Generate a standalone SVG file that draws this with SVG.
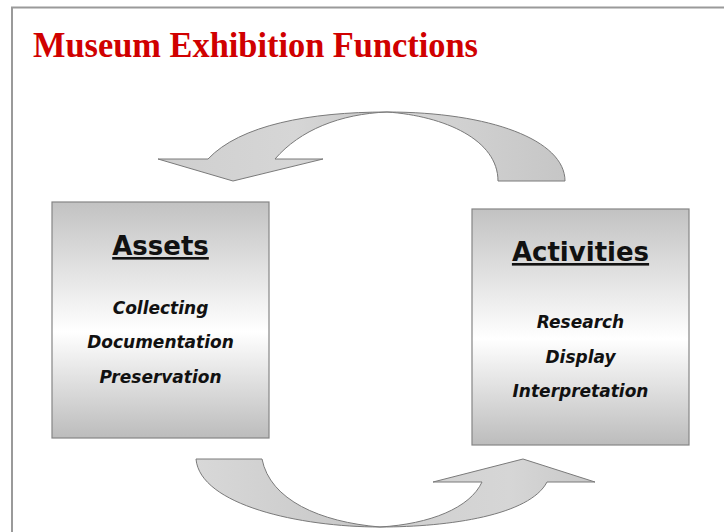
<svg xmlns="http://www.w3.org/2000/svg" width="724" height="532" viewBox="0 0 724 532">
<defs>
<linearGradient id="boxGrad" x1="0" y1="0" x2="0" y2="1">
<stop offset="0" stop-color="#c2c2c2"/>
<stop offset="0.55" stop-color="#ffffff"/>
<stop offset="1" stop-color="#bcbcbc"/>
</linearGradient>
<linearGradient id="arrowFront" x1="0" y1="0" x2="1" y2="0">
<stop offset="0" stop-color="#cfcfcf"/>
<stop offset="0.6" stop-color="#d6d6d6"/>
<stop offset="1" stop-color="#c8c8c8"/>
</linearGradient>
<linearGradient id="arrowBack" x1="0" y1="0" x2="1" y2="0">
<stop offset="0" stop-color="#d8d8d8"/>
<stop offset="1" stop-color="#c6c6c6"/>
</linearGradient>
</defs>
<style>
.frame{fill:none;stroke:#9a9a9a;stroke-width:2}
.title{font-family:"Liberation Serif","DejaVu Serif",serif;font-weight:bold;font-size:36px;fill:#d00000}
.box{fill:url(#boxGrad);stroke:#858585;stroke-width:1.2}
.head{font-family:"DejaVu Sans",Verdana,sans-serif;font-weight:bold;font-size:26px;fill:#111;text-decoration:underline;text-anchor:middle}
.item{font-family:"DejaVu Sans",Verdana,sans-serif;font-weight:bold;font-style:italic;font-size:17px;fill:#111;text-anchor:middle}
.arrow{stroke:#7a7a7a;stroke-width:1;stroke-linejoin:miter}
</style>
<rect width="724" height="532" fill="#ffffff"/>
<path class="frame" d="M12 533 L12 7.5 L725 7.5"/>
<text id="title" class="title" x="33" y="57" textLength="445" lengthAdjust="spacingAndGlyphs">Museum Exhibition Functions</text>
<g id="connectors">
<g id="arrow-top">
<path class="arrow" fill="url(#arrowBack)" d="M387 112 C490 112 565 140 565 181 L498 181 C498 140 445 116 387 112 Z"/>
<path class="arrow" fill="url(#arrowFront)" d="M387 112 C310 112 240 125 208 159 L158 159 L233 181 L323 159 L275 159 C300 130 340 114 387 112 Z"/>
</g>
<g id="arrow-bottom">
<path class="arrow" fill="url(#arrowBack)" d="M196 459 L262 459 C270 500 320 522 380 527 C300 527 200 505 196 459 Z"/>
<path class="arrow" fill="url(#arrowFront)" d="M380 527 C430 524 470 508 482 482 L433 482 L523 459 L595 482 L547 482 C530 515 450 527 380 527 Z"/>
</g>
</g>
<g id="node-assets">
<rect class="box" x="52" y="202" width="217" height="236"/>
<text class="head" x="160.5" y="255">Assets</text>
<text class="item" x="160.5" y="314">Collecting</text>
<text class="item" x="160.5" y="348">Documentation</text>
<text class="item" x="160.5" y="383">Preservation</text>
</g>
<g id="node-activities">
<rect class="box" x="472" y="209" width="217" height="236"/>
<text class="head" x="580.5" y="261">Activities</text>
<text class="item" x="580.5" y="328">Research</text>
<text class="item" x="580.5" y="363">Display</text>
<text class="item" x="580.5" y="397">Interpretation</text>
</g>
</svg>
